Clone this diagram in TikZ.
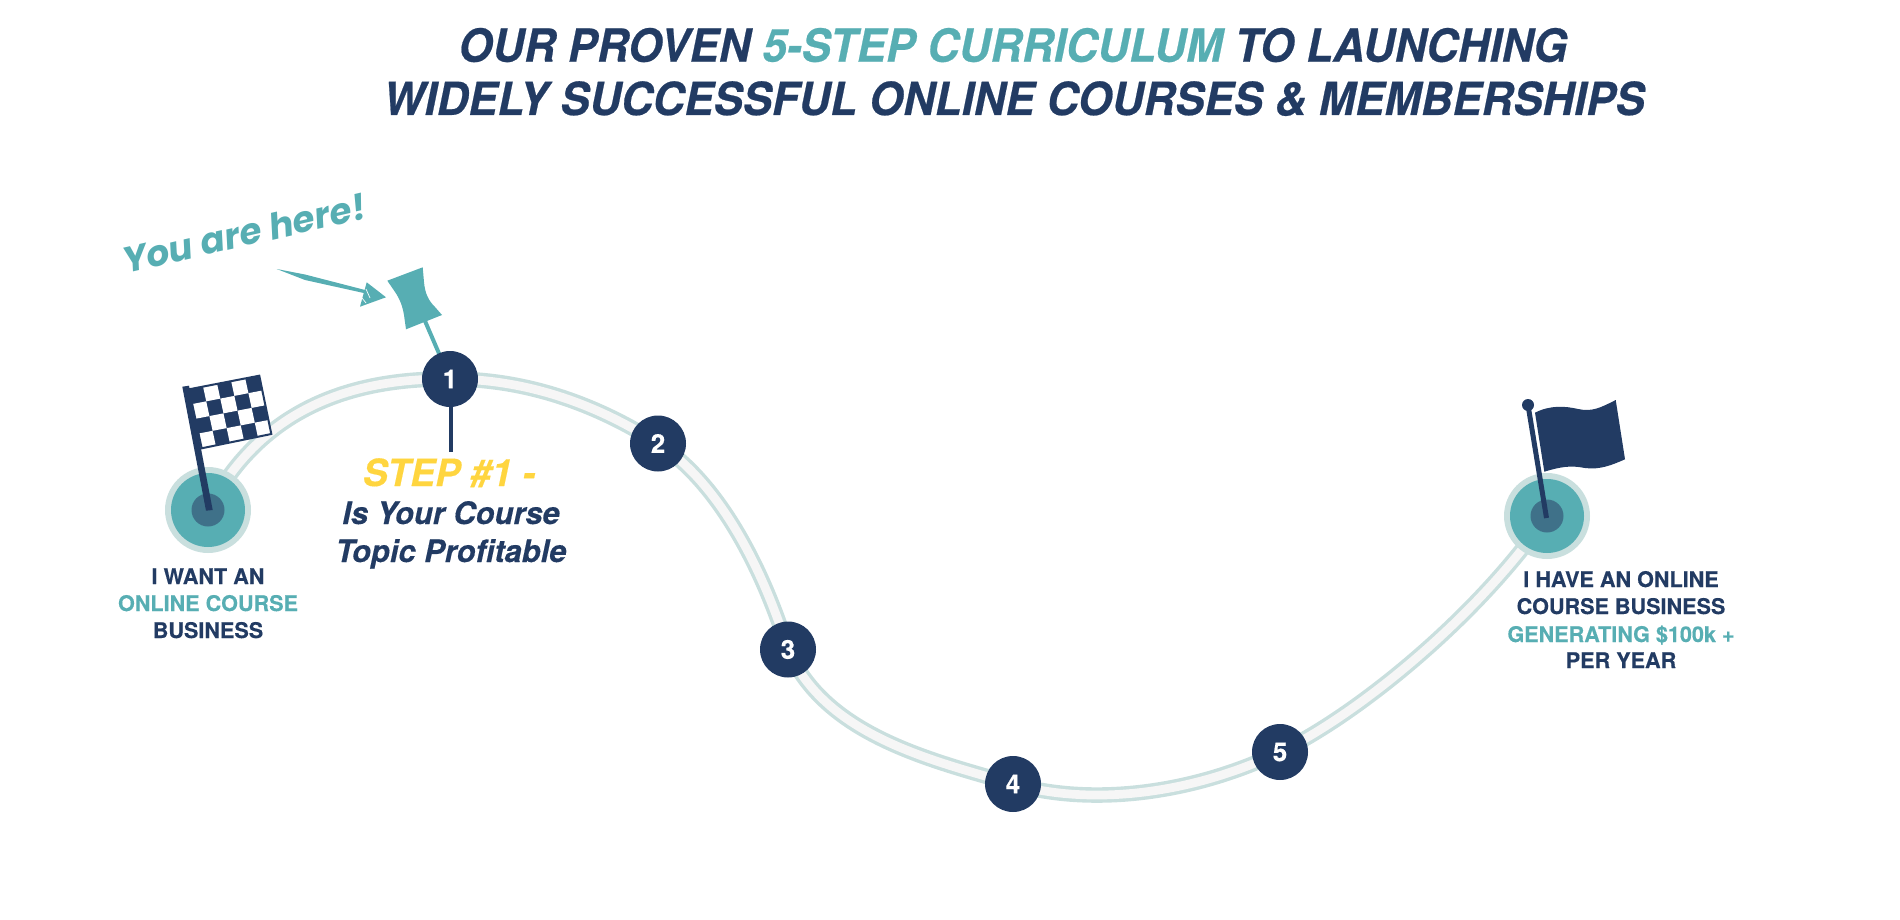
\documentclass[tikz,border=0pt]{standalone}
\usepackage{fontspec}
\setmainfont[FakeBold=0.35]{TeX Gyre Heros}
\newfontfamily\titlefont[FakeStretch=0.96,FakeBold=0.45]{TeX Gyre Heros}
\newfontfamily\handfont{Poppins}
\usetikzlibrary{calc}
\definecolor{navy}{HTML}{223B63}
\definecolor{teal2}{HTML}{57AEB3}
\definecolor{pale}{HTML}{C9DFDE}
\definecolor{road}{HTML}{F6F6F6}
\definecolor{hub}{HTML}{3F7189}
\definecolor{gold}{HTML}{FFD53F}
\tikzset{
  title/.style={anchor=base,inner sep=0pt,text=navy,font=\fontsize{45.6}{50}\selectfont\titlefont\bfseries\itshape},
  caption/.style={anchor=base,inner sep=0pt,text=navy,font=\fontsize{21.6}{25}\selectfont\bfseries},
  captionteal/.style={caption,text=teal2},
  stepline/.style={anchor=base,inner sep=0pt,text=navy,font=\fontsize{30.9}{34}\selectfont\bfseries\itshape},
  stephead/.style={anchor=base,inner sep=0pt,text=gold,font=\fontsize{37.5}{40}\selectfont\bfseries\itshape},
  stepdot/.style={circle,fill=navy,minimum size=56pt,inner sep=0pt,text=white,font=\fontsize{26}{28}\selectfont\bfseries},
  roadedge/.style={line width=15.5pt,draw=pale},
  roadfill/.style={line width=8.7pt,draw=road},
  ringouter/.style={circle,fill=pale,minimum size=86pt,inner sep=0pt},
  ringmid/.style={circle,fill=teal2,minimum size=74pt,inner sep=0pt},
  ringhub/.style={circle,fill=hub,minimum size=33pt,inner sep=0pt},
  roadpath/.style={insert path={
    (start) .. controls (255,420) and (335,378) .. (p1)
    .. controls (520,379) and (590,400) .. (p2)
    .. controls (715,480) and (760,560) .. (p3)
    .. controls (825,735) and (930,760) .. (p4)
    .. controls (1090,806) and (1190,795) .. (p5)
    .. controls (1355,716) and (1475,620) .. (finish)}},
}
\begin{document}
\begin{tikzpicture}[x=1pt,y=-1pt]
\useasboundingbox (0,0) rectangle (1900,920);
\coordinate (start) at (208,510);
\coordinate (finish) at (1547,516);
\coordinate (p1) at (450,379);
\coordinate (p2) at (658,443.5);
\coordinate (p3) at (788,649.5);
\coordinate (p4) at (1013,784);
\coordinate (p5) at (1280,752);
\coordinate (stemend) at (451,452);
\coordinate (pinfoot) at (425,321);
% road
\draw[roadedge,roadpath];
\draw[roadfill,roadpath];
% end rings
\node[ringouter] (so) at (start) {};
\node[ringmid] (sm) at (start) {};
\node[ringhub] (sh) at (start) {};
\node[ringouter] (fo) at (finish) {};
\node[ringmid] (fm) at (finish) {};
\node[ringhub] (fh) at (finish) {};
% stem and pin needle behind the dot
\draw[navy,line width=4.3pt] (451,400) -- (stemend);
\draw[teal2,line width=4pt] (pinfoot) -- (p1);
% step dots
\node[stepdot] (n1) at (p1) {1};
\node[stepdot] (n2) at (p2) {2};
\node[stepdot] (n3) at (p3) {3};
\node[stepdot] (n4) at (p4) {4};
\node[stepdot] (n5) at (p5) {5};
% title
\node[title] (t1) at (1013,61.7) {OUR PROVEN \textcolor{teal2}{5-STEP CURRICULUM} TO LAUNCHING};
\node[title] (t2) at (1014,115) {WIDELY SUCCESSFUL ONLINE COURSES \& MEMBERSHIPS};
% left caption
\node[caption] (a1) at (208,584) {I WANT AN};
\node[captionteal] (a2) at (208,611) {ONLINE COURSE};
\node[caption] (a3) at (208,638) {BUSINESS};
% right caption
\node[caption] (b1) at (1621,587) {I HAVE AN ONLINE};
\node[caption] (b2) at (1621,614) {COURSE BUSINESS};
\node[captionteal] (b3) at (1621,642) {GENERATING \$100k +};
\node[caption] (b4) at (1621,668) {PER YEAR};
% step text
\node[stephead] (s1) at (449,486) {STEP \#1 -};
\node[stepline] (s2) at (451,524) {Is Your Course};
\node[stepline] (s3) at (451,562) {Topic Profitable};
% checkered flag
\fill[navy] (182.3,386.7) -- (189,385.7) -- (212.7,510) -- (206,510.7) -- cycle;
\fill[navy] (189,389.3) -- (259.3,375.7) -- (271.3,434) -- (201.7,448.3) -- cycle;
\foreach \c/\r in {1/0,3/0,0/1,2/1,4/1,1/2,3/2,0/3,2/3,4/3}{
  \pgfmathsetmacro\ax{189+\c*14.06+\r*3.18}
  \pgfmathsetmacro\ay{389.3-\c*2.72+\r*14.75}
  \fill[white] (\ax,\ay) -- ++(14.06,-2.72) -- ++(3.18,14.75) -- ++(-14.06,2.72) -- cycle;
}
\draw[navy,line width=2pt,line join=miter] (189,389.3) -- (259.3,375.7) -- (271.3,434) -- (201.7,448.3) -- cycle;
% plain flag
\fill[navy] (1535,412.7) .. controls (1550,405) and (1565,406) .. (1578,409)
  .. controls (1592,412) and (1600,408) .. (1615.7,400) -- (1625,459.3)
  .. controls (1612,465) and (1600,470) .. (1585,468)
  .. controls (1570,465) and (1560,467) .. (1544.3,471.7) -- cycle;
\draw[navy,line width=5pt] (1528,405) -- (1546.5,518);
\fill[navy] (1528,405) circle (6);
% pin head
\fill[teal2] (387.3,280.7) -- (422.7,267.3) -- (424,282) .. controls (425,293) and (428,300) .. (435,307) -- (442,315)
  -- (406,329.3) -- (404,315) .. controls (402,303) and (398,296) .. (393,289) -- cycle;
% hand arrow
\fill[teal2] (276.7,269) -- (305,274.5) -- (367,290.5) -- (366,293.5) -- (305,280) -- cycle;
\fill[teal2] (366.7,282.3) -- (386,297.3) -- (360,306.7) -- cycle;
\draw[white,line width=0.7pt] (366,289) -- (370,298) (362,298) -- (366,303);
% hand text
\node[inner sep=0pt,text=teal2,rotate=13,font=\fontsize{36}{40}\selectfont\handfont\bfseries\itshape] (hand) at (244,233) {You are here!};
\end{tikzpicture}
\end{document}
